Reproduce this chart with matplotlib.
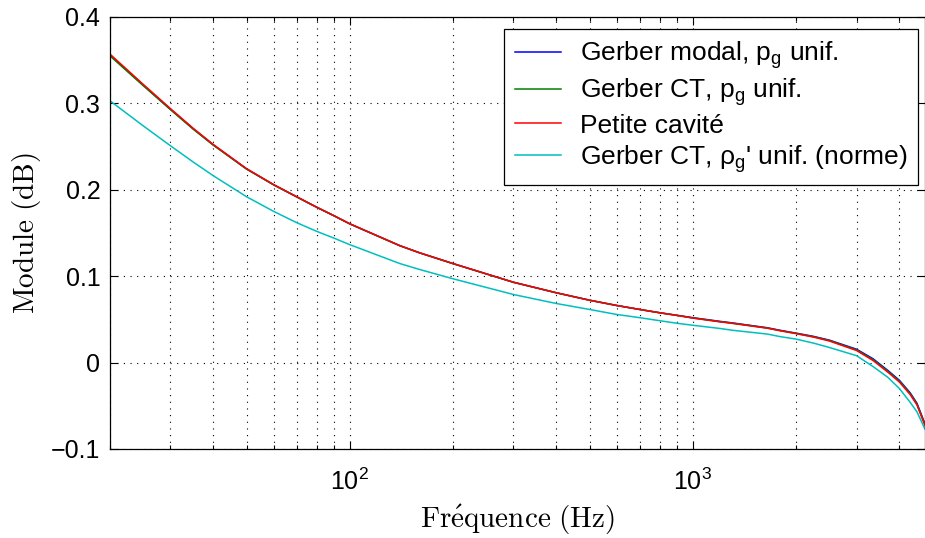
import matplotlib
matplotlib.use('Agg')
import matplotlib.pyplot as plt
from matplotlib.ticker import LogLocator, NullFormatter

plt.rcParams['font.family'] = ['Liberation Sans', 'DejaVu Sans']
plt.rcParams['mathtext.fontset'] = 'custom'
plt.rcParams['mathtext.rm'] = 'Liberation Sans'
plt.rcParams['mathtext.it'] = 'Liberation Sans'

# fréquences (Hz)
freq = [20, 25, 30, 35, 40, 50, 60, 70, 80, 90, 100, 140, 160, 200, 300, 400, 500,
        600, 700, 800, 900, 1000, 1200, 1300, 1650, 1800, 2000, 2250, 2500, 3000,
        3350, 3700, 4000, 4300, 4500, 4750]

# module (dB)
petite_cavite = [0.357, 0.322, 0.294, 0.271, 0.2525, 0.2245, 0.2060, 0.192, 0.180, 0.170,
                 0.1607, 0.1353, 0.127, 0.1146, 0.093, 0.0808, 0.0722, 0.0661, 0.0615, 0.0577,
                 0.0546, 0.0515, 0.0472, 0.0455, 0.0398, 0.0368, 0.0335, 0.0295, 0.0250, 0.0140,
                 0.0025, -0.011, -0.0225, -0.037, -0.049, -0.073]
gerber_modal = [0.356, 0.3212, 0.2933, 0.2705, 0.2520, 0.2242, 0.2058, 0.1919, 0.1799, 0.1699,
                0.1606, 0.1353, 0.127, 0.1146, 0.093, 0.0808, 0.0722, 0.0661, 0.0615, 0.0577,
                0.0547, 0.052, 0.0477, 0.046, 0.0403, 0.0373, 0.0341, 0.0303, 0.026, 0.0155,
                0.0045, -0.009, -0.0205, -0.035, -0.047, -0.071]
gerber_ct = [0.355, 0.3205, 0.2928, 0.270, 0.2517, 0.2240, 0.2057, 0.1918, 0.1798, 0.1698,
             0.1605, 0.1352, 0.1269, 0.1145, 0.0929, 0.0808, 0.0722, 0.0661, 0.0615, 0.0577,
             0.0546, 0.0517, 0.0474, 0.0457, 0.040, 0.037, 0.0338, 0.0299, 0.0255, 0.0148,
             0.0035, -0.010, -0.0215, -0.036, -0.048, -0.072]
gerber_ct_norme = [0.303, 0.274, 0.251, 0.232, 0.2163, 0.192, 0.175, 0.162, 0.152, 0.144,
                   0.1365, 0.1146, 0.1077, 0.097, 0.0788, 0.0684, 0.0615, 0.0557, 0.052, 0.0485,
                   0.0455, 0.0432, 0.0395, 0.0375, 0.0330, 0.0300, 0.0272, 0.0225, 0.0175, 0.0080,
                   -0.0045, -0.0170, -0.030, -0.046, -0.057, -0.077]

labels = [r'Gerber modal, p$_{\mathrm{g}}$ unif.',
          r'Gerber CT, p$_{\mathrm{g}}$ unif.',
          'Petite cavité',
          r"Gerber CT, ρ$_{\mathrm{g}}$' unif. (norme)"]

fig = plt.figure(figsize=(9.25, 5.38), dpi=100)
ax = fig.add_axes([110/925, 89/538, 815/925, 432/538])

ax.semilogx(freq, gerber_modal, color=(0, 0, 1), lw=1.1, label=labels[0])
ax.semilogx(freq, gerber_ct, color=(0, 0.5, 0), lw=1.1, label=labels[1])
ax.semilogx(freq, petite_cavite, color=(1, 0, 0), lw=1.1, label=labels[2])
ax.semilogx(freq, gerber_ct_norme, color=(0, 0.75, 0.75), lw=1.1, label=labels[3])

ax.set_xlim(20, 4750)
ax.set_ylim(-0.1, 0.4)
ax.set_yticks([-0.1, 0, 0.1, 0.2, 0.3, 0.4])
ax.set_yticklabels(['\u22120.1', '0', '0.1', '0.2', '0.3', '0.4'])
ax.xaxis.set_minor_locator(LogLocator(base=10, subs=range(2, 10)))
ax.xaxis.set_minor_formatter(NullFormatter())

ax.tick_params(which='both', direction='in', top=True, right=True, labelsize=18)
ax.tick_params(which='major', length=6, width=0.8)
ax.tick_params(which='minor', length=3, width=0.8)
ax.tick_params(axis='y', pad=7)
ax.tick_params(axis='x', pad=14)

ax.grid(True, which='major', linestyle=(0, (1, 5)), color='k', lw=0.8)
ax.grid(True, which='minor', axis='x', linestyle=(0, (1, 5)), color='k', lw=0.8)

for s in ax.spines.values():
    s.set_linewidth(0.9)

ax.set_xlabel(r'$\mathrm{Fr\acute{e}quence\ (Hz)}$', fontsize=21, math_fontfamily='cm', labelpad=6)
ax.set_ylabel(r'$\mathrm{Module\ (dB)}$', fontsize=21, math_fontfamily='cm', labelpad=6)

leg = ax.legend(loc='upper right', bbox_to_anchor=(0.9914, 0.972), borderaxespad=0,
                fontsize=19, fancybox=False, framealpha=1, edgecolor='k',
                handlelength=1.75, labelspacing=0.2, borderpad=0.4, handletextpad=0.7)
leg.get_frame().set_linewidth(0.9)

fig.savefig('out.png', dpi=100)
